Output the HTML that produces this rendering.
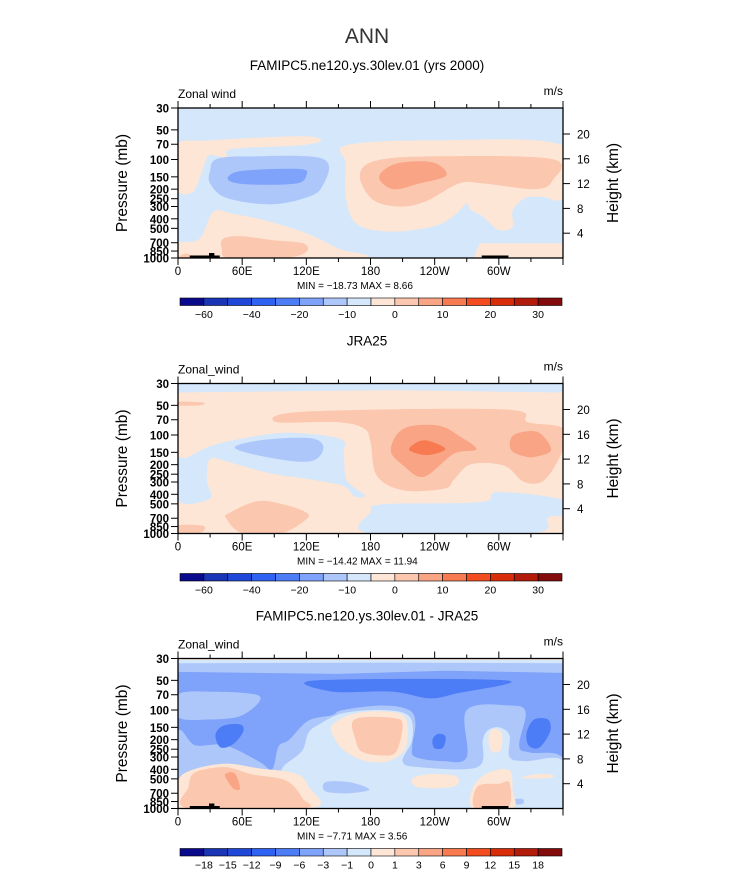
<!DOCTYPE html>
<html><head><meta charset="utf-8">
<style>
body{margin:0;background:#fff;}
svg text{font-family:"Liberation Sans",sans-serif;}
</style></head>
<body>
<svg id="fig" width="733" height="888" viewBox="0 0 733 888" xmlns="http://www.w3.org/2000/svg">
<text x="367" y="43" text-anchor="middle" font-size="21" fill="#333">ANN</text>
</svg>
<script>
const lonTicks=[0,60,120,180,240,300];
const lonTickLabels=["0","60E","120E","180","120W","60W"];
const presTicks=[30,50,70,100,150,200,250,300,400,500,700,850,1000];
const heightTicks=[4,8,12,16,20];
const cbColors=["#0a0a8c","#1a35b5","#1f48d8","#2d62f2","#4c7cf6","#7fa2fa","#adc7fb","#d4e7fb","#fde6d6","#fcc7af","#f9a485","#f77a50","#f24c20","#d82d08","#b31b0a","#830b0b"];
const cbLabels1=["-60","-40","-20","-10","0","10","20","30"];
const cbLabels3=["-18","-15","-12","-9","-6","-3","-1","0","1","3","6","9","12","15","18"];
const land=[[11,39],[284,309]];
const landBump=[29,34];
// contour regions: [colorIndex, [[lon,p],...], straight?]
const field1=[
 [8,[[0,72],[30,64],[114,58],[134,64],[114,72],[51,78],[45,95],[30,90],[25,110],[18,180],[12,220],[0,200]]],
 [8,[[0,70],[22,70],[24,110],[18,150],[12,190],[0,180]]],
 [6,[[30,130],[36,99],[67,93],[136,99],[134,195],[114,255],[83,285],[45,245],[30,175]]],
 [5,[[47,150],[61,130],[114,125],[120,145],[111,175],[73,180],[51,170]]],
 [8,[[157,72],[238,64],[360,72],[360,240],[341,240],[325,245],[313,330],[313,480],[300,520],[285,380],[273,320],[270,280],[257,380],[238,480],[198,540],[167,450],[157,240],[157,110]]],
 [9,[[170,145],[185,103],[238,93],[350,99],[350,165],[334,200],[285,175],[263,175],[232,265],[207,300],[182,255]]],
 [10,[[188,150],[204,110],[238,107],[251,145],[226,175],[201,200]]],
 [8,[[0,710],[20,640],[33,340],[51,355],[83,420],[120,560],[150,800],[170,1000],[0,1000]]],
 [8,[[276,1000],[282,710],[360,710],[360,1000]],1],
 [9,[[42,640],[58,600],[89,660],[117,710],[120,870],[101,990],[48,1000],[41,810]]],
 [9,[[2,950],[8,900],[14,1000],[2,1000]]]
];
const field2=[
 [7,[[0,30],[360,30],[360,37],[200,35],[0,37]],1],
 [9,[[0,46],[24,47],[20,50],[0,50]]],
 [9,[[92,74],[117,58],[305,55],[327,74],[360,85],[360,140],[343,284],[324,300],[305,205],[274,198],[258,284],[249,350],[211,365],[186,260],[180,118],[174,86],[149,74]]],
 [10,[[199,142],[211,86],[243,80],[264,104],[279,140],[258,155],[230,265],[211,205]]],
 [11,[[216,140],[230,113],[250,138],[233,160]]],
 [10,[[311,140],[314,100],[336,93],[349,140],[336,165],[324,165]]],
 [7,[[0,183],[8,170],[30,130],[58,110],[102,95],[152,110],[155,155],[158,290],[175,410],[165,420],[155,330],[130,290],[86,245],[49,190],[30,175],[27,290],[30,440],[1,470]]],
 [6,[[53,135],[80,112],[124,108],[136,135],[124,185],[86,170]]],
 [7,[[180,610],[192,505],[283,480],[299,380],[360,455],[360,640],[346,690],[330,1000],[180,1000]]],
 [9,[[49,610],[74,470],[96,500],[117,590],[121,700],[96,1000],[61,1000],[45,700]]],
 [9,[[0,830],[24,840],[20,1000],[0,1000]]]
];
const field3=[
 [6,[[0,30],[360,30],[360,42],[250,40],[150,43],[0,41]],1],
 [7,[[0,30],[360,30],[360,33.5],[200,33],[0,33.5]],1],
 [8,[[0,30],[360,30],[360,31],[0,31]],1],
 [4,[[129,50],[307,50],[260,68],[235,76],[200,65],[144,65]]],
 [6,[[0,70],[28,65],[76,72],[60,113],[28,125],[0,118]]],
 [6,[[0,170],[16,228],[44,228],[76,335],[88,400],[94,235],[104,200],[122,128],[144,113],[154,100],[191,90],[216,100],[222,135],[219,235],[222,300],[248,330],[270,300],[270,100],[310,90],[325,105],[319,230],[329,270],[360,310],[360,1000],[0,1000]]],
 [7,[[0,520],[20,420],[60,400],[90,470],[100,360],[116,260],[122,170],[132,140],[154,108],[191,100],[216,115],[219,200],[210,330],[225,380],[280,380],[285,200],[290,160],[300,150],[310,180],[310,300],[325,330],[360,330],[360,1000],[0,1000]]],
 [6,[[138,540],[160,540],[179,640],[160,700],[138,670]]],
 [6,[[310,820],[322,800],[322,900],[310,900]]],
 [8,[[144,143],[166,108],[197,104],[213,122],[213,240],[197,330],[175,330],[157,265],[147,200]]],
 [9,[[163,133],[175,118],[204,122],[210,145],[204,265],[191,290],[172,265],[166,200]]],
 [8,[[291,170],[297,155],[303,175],[302,250],[295,270],[291,230]]],
 [4,[[35,180],[42,145],[58,140],[61,165],[52,220],[40,240]]],
 [4,[[238,200],[243,175],[250,185],[248,240],[240,245]]],
 [4,[[326,170],[333,125],[346,125],[348,165],[338,240],[328,230]]],
 [8,[[0,520],[15,400],[45,350],[75,390],[110,440],[122,600],[125,1000],[0,1000]]],
 [9,[[10,600],[16,430],[44,380],[69,450],[101,520],[116,780],[116,1000],[10,1000]]],
 [10,[[44,450],[53,440],[58,620],[53,640],[47,540]]],
 [8,[[219,500],[235,450],[260,470],[258,600],[225,610]]],
 [8,[[276,600],[291,430],[310,410],[313,660],[313,1000],[276,1000]]],
 [9,[[278,1000],[280,600],[300,560],[310,550],[308,1000]]],
 [8,[[322,480],[335,450],[350,455],[348,490],[325,495]]]
];
const svg=document.getElementById('fig');
const NS="http://www.w3.org/2000/svg";
const X0=178,W=385,H=150;
function xs(lon){return X0+lon/360*W;}
function ys(p,top){return top+Math.log(p/30)/Math.log(1000/30)*H;}
function mk(tag,attrs,parent){const e=document.createElementNS(NS,tag);for(const k in attrs)e.setAttribute(k,attrs[k]);(parent||svg).appendChild(e);return e;}
function straight(pts){return "M"+pts.map(p=>p[0].toFixed(1)+","+p[1].toFixed(1)).join("L")+"Z";}
function smooth(pts){let d="";const n=pts.length;for(let i=0;i<n;i++){const p0=pts[(i-1+n)%n],p1=pts[i],p2=pts[(i+1)%n],p3=pts[(i+2)%n];if(i===0)d+="M"+p1[0].toFixed(1)+","+p1[1].toFixed(1);const c1=[p1[0]+(p2[0]-p0[0])/6,p1[1]+(p2[1]-p0[1])/6],c2=[p2[0]-(p3[0]-p1[0])/6,p2[1]-(p3[1]-p1[1])/6];d+="C"+c1.map(v=>v.toFixed(1))+" "+c2.map(v=>v.toFixed(1))+" "+p2.map(v=>v.toFixed(1));}return d+"Z";}
function panel(top,bg,field,title,varname,mn,mx,labels,hasLand,idx){
 mk('text',{x:367,y:top-38,'text-anchor':'middle','font-size':13.5,fill:'#000',}).textContent=title;
 mk('text',{x:178,y:top-10,'font-size':12,fill:'#000',}).textContent=varname;
 mk('text',{x:563,y:top-13,'text-anchor':'end','font-size':12,fill:'#000',}).textContent="m/s";
 const cp=mk('clipPath',{id:'cp'+idx});mk('rect',{x:X0,y:top,width:W,height:H},cp);
 const g=mk('g',{'clip-path':'url(#cp'+idx+')'});
 
 
 const bgr=mk('rect',{x:X0,y:top,width:W,height:H,fill:cbColors[bg]},g);
 
 
 field.forEach(f=>{const pts=f[1].map(q=>[xs(q[0]),ys(q[1],top)]);const e=mk('path',{d:f[2]?straight(pts):smooth(pts),fill:cbColors[f[0]]},g);
  
  });
 if(hasLand){land.forEach(l=>{const e=mk('rect',{x:xs(l[0]),y:top+H-2.5,width:xs(l[1])-xs(l[0]),height:2.5,fill:'#000'},g);
  
  });
  const b=mk('rect',{x:xs(landBump[0]),y:top+H-5,width:xs(landBump[1])-xs(landBump[0]),height:5,fill:'#000'},g);
  
  }
 const fr=mk('rect',{x:X0,y:top,width:W,height:H,fill:'none',stroke:'#000','stroke-width':1.3});
 
 
 for(let lon=0;lon<=360;lon+=30){const x=xs(lon),len=lon%60===0?7:4;
  mk('line',{x1:x,x2:x,y1:top,y2:top-len,stroke:'#000','stroke-width':1});
  mk('line',{x1:x,x2:x,y1:top+H,y2:top+H+len,stroke:'#000','stroke-width':1});}
 lonTicks.forEach((lon,i)=>{const t=mk('text',{x:xs(lon),y:top+H+17,'text-anchor':'middle','font-size':11.5,fill:'#000'});t.textContent=lonTickLabels[i];
  
  });
 presTicks.forEach(p=>{const y=ys(p,top);mk('line',{x1:X0,x2:X0-7,y1:y,y2:y,stroke:'#000','stroke-width':1});
  const t=mk('text',{x:X0-9,y:y+4.5,'text-anchor':'end','font-size':11.5,'font-weight':'bold',fill:'#000','font-family':'Liberation Sans Narrow, Liberation Sans, sans-serif'});t.textContent=p;
  
  });
 heightTicks.forEach(z=>{const p=1000*Math.exp(-z/6.9);const y=ys(p,top);mk('line',{x1:X0+W,x2:X0+W+7,y1:y,y2:y,stroke:'#000','stroke-width':1});
  const t=mk('text',{x:X0+W+14,y:y+4.5,'font-size':11.5,fill:'#000'});t.textContent=z;
  
  });
 const pl=mk('text',{x:0,y:0,'text-anchor':'middle','font-size':15.5,fill:'#000',transform:'translate(127,'+(top+H/2)+') rotate(-90)'});pl.textContent="Pressure (mb)";
 
 
 const hl=mk('text',{x:0,y:0,'text-anchor':'middle','font-size':15.5,fill:'#000',transform:'translate(618,'+(top+H/2)+') rotate(-90)'});hl.textContent="Height (km)";
 
 
 const mm=mk('text',{x:297,y:top+H+31,'font-size':10,fill:'#000','xml:space':'preserve'});mm.textContent="MIN = "+mn+"   MAX =   "+mx;
 
 
 const cy=top+H+40,cx0=180,cw=(562-180)/16;
 cbColors.forEach((c,i)=>{const r=mk('rect',{x:cx0+i*cw,y:cy,width:cw,height:7.5,fill:c,stroke:'#000','stroke-width':0.6});
  
  });
 const step=labels.length===8?2:1;
 labels.forEach((l,i)=>{const k=1+i*step;const t=mk('text',{x:cx0+k*cw,y:cy+20,'text-anchor':'middle','font-size':10.5,fill:'#000'});t.textContent=l.replace('-','\u2212');
  
  });
}
panel(108,7,field1,"FAMIPC5.ne120.ys.30lev.01 (yrs 2000)","Zonal wind","\u221218.73","8.66",cbLabels1,true,1);
panel(383.5,8,field2,"JRA25","Zonal_wind","\u221214.42","11.94",cbLabels1,false,2);
panel(658.5,5,field3,"FAMIPC5.ne120.ys.30lev.01 - JRA25","Zonal_wind","\u22127.71","3.56",cbLabels3,true,3);
</script>
</body></html>
